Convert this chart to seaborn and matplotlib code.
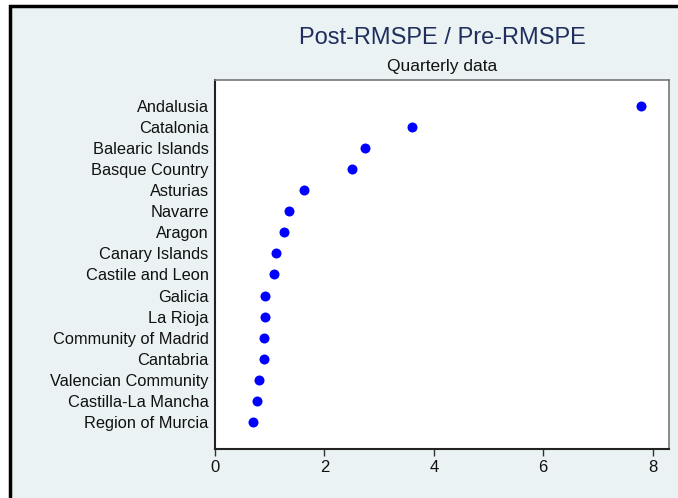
import numpy as np
import pandas as pd
import seaborn as sns
import matplotlib.pyplot as plt
from matplotlib.patches import Rectangle

regions = ['Andalusia', 'Catalonia', 'Balearic Islands', 'Basque Country',
           'Asturias', 'Navarre', 'Aragon', 'Canary Islands', 'Castile and Leon',
           'Galicia', 'La Rioja', 'Community of Madrid', 'Cantabria',
           'Valencian Community', 'Castilla-La Mancha', 'Region of Murcia']
ratio = [7.78, 3.61, 2.75, 2.50, 1.63, 1.36, 1.27, 1.11, 1.07,
         0.91, 0.91, 0.89, 0.89, 0.81, 0.76, 0.70]
xticks = [0, 2, 4, 6, 8]

df = pd.DataFrame({'region': regions, 'ratio': ratio})

sns.set_style('white')
plt.rcParams['font.family'] = ['Liberation Sans', 'DejaVu Sans']

fig = plt.figure(figsize=(6.78, 4.98), dpi=100)
fig.patch.set_facecolor('white')
# outer Stata-style frame
fig.patches.append(Rectangle((10 / 678, -0.1), 1.2, 1.1 - 6 / 498,
                             transform=fig.transFigure, facecolor='#EAF2F3',
                             edgecolor='black', linewidth=2.5, zorder=-10))

ax = fig.add_axes([215 / 678, 49 / 498, 454 / 678, 369 / 498])
sns.stripplot(data=df, x='ratio', y='region', order=regions, jitter=False,
              color='#0000FF', size=7.2, linewidth=0, ax=ax)

ax.set_facecolor('white')
ax.set_xlim(0, 8.3)
ax.set_ylim(len(regions) - 1 + 1.3, -1.25)
ax.set_xticks(xticks)
ax.set_xticklabels([str(t) for t in xticks])
ax.set_xlabel('')
ax.set_ylabel('')
ax.tick_params(axis='x', bottom=True, length=5, width=1, color='#333333',
               labelsize=12, pad=3, labelcolor='#111111')
ax.tick_params(axis='y', left=False, labelsize=11.8, pad=1, labelcolor='#111111')
for side in ['top', 'right']:
    ax.spines[side].set_color('#777777')
    ax.spines[side].set_linewidth(1.2)
for side in ['left', 'bottom']:
    ax.spines[side].set_color('#222222')
    ax.spines[side].set_linewidth(1.5)

fig.text(442 / 678, 1 - 38 / 498, 'Post-RMSPE / Pre-RMSPE', ha='center', va='center',
         fontsize=17, color='#1F2E5C')
fig.text(442 / 678, 1 - 67 / 498, 'Quarterly data', ha='center', va='center',
         fontsize=12.5, color='#111111')

plt.savefig('out.png', dpi=100, facecolor=fig.get_facecolor())
